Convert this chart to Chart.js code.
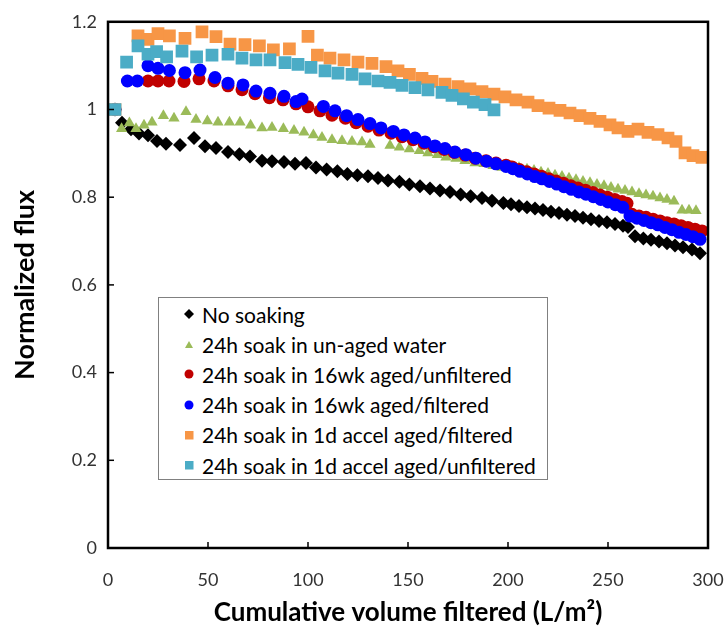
<!DOCTYPE html>
<html lang="en">
<head>
  <meta charset="UTF-8" />
  <title>Normalized flux</title>
  <script src="https://cdn.jsdelivr.net/npm/chart.js"></script>
  <style>
    body {
      margin: 0;
      background: #fff;
    }

    #wrap {
      position: relative;
      width: 725px;
      height: 628px;
    }

    #legend {
      position: absolute;
      left: 158px;
      top: 297px;
      width: 390px;
      height: 183px;
      box-sizing: border-box;
      border: 1px solid #808080;
      background: #fff;
      font-family: Lato, sans-serif;
      font-size: 21px;
      color: #000;
    }

    .item {
      position: absolute;
      left: 24px;
      height: 26px;
      display: flex;
      align-items: center;
      white-space: nowrap;
    }

    .item svg {
      width: 12px;
      height: 12px;
      margin-right: 7px;
    }
  </style>
</head>
<body>
  <div id="wrap">
    <canvas id="fluxChart" width="725" height="628"></canvas>
    <div id="legend"></div>
  </div>

  <script>
    const seriesNames = [
      "No soaking",
      "24h soak in un-aged water",
      "24h soak in 16wk aged/unfiltered",
      "24h soak in 16wk aged/filtered",
      "24h soak in 1d accel aged/filtered",
      "24h soak in 1d accel aged/unfiltered"
    ];

    // No soaking
    const noSoakX = [3.5, 7, 11.5, 15.5, 20, 24.5, 29, 36, 43, 48.5, 54, 60, 65.7, 71, 77, 82, 88, 93.5, 99,
      104, 109.3, 114.7, 119.7, 124.7, 130, 135, 140, 145.7, 150.7, 156, 161, 166, 171, 176.3, 181.3, 187, 192, 197.7,
      201.5, 205.5, 209.5, 213.5, 217.5, 221.5, 225.5, 229.5, 233.5, 237.5, 241.5, 245.5, 249.5, 253.5, 257.5, 260,
      263.5, 267.7, 271.5, 275.5, 279.5, 283.5, 287.5, 292, 296];
    const noSoakY = [1.0, 0.97, 0.955, 0.945, 0.941, 0.928, 0.922, 0.919, 0.935, 0.916, 0.912, 0.903, 0.898, 0.893, 0.883, 0.882, 0.88, 0.876, 0.878,
      0.868, 0.863, 0.859, 0.853, 0.85, 0.848, 0.844, 0.838, 0.835, 0.829, 0.825, 0.82, 0.815, 0.812, 0.806, 0.802, 0.798, 0.792, 0.787,
      0.784, 0.78, 0.777, 0.774, 0.771, 0.767, 0.764, 0.76, 0.757, 0.753, 0.75, 0.746, 0.743, 0.739, 0.735, 0.732,
      0.711, 0.706, 0.703, 0.699, 0.695, 0.69, 0.686, 0.681, 0.672];

    // un-aged water
    const unagedX = [3.5, 6.8, 10.7, 14, 18, 22, 27.7, 33, 39, 44, 49.7, 55, 60.7, 66, 71.3, 77, 82, 87.7, 93, 98,
      102.7, 107, 112, 117, 122, 127, 131, 141, 145.7, 150.7, 155.7, 160, 164.7, 169, 174, 178.5, 183.5, 188, 192.5, 197,
      201.5, 205.5, 209.5, 213, 216.5, 220, 223.5, 227, 230.5, 234, 237.5, 241, 244.5, 248, 251.5, 255, 258.5, 262,
      265.5, 269, 272.5, 276, 279.5, 283, 287, 290.5, 294];
    const unagedY = [1.0, 0.956, 0.969, 0.956, 0.964, 0.971, 0.986, 0.98, 0.995, 0.977, 0.974, 0.971, 0.971, 0.971, 0.964, 0.958, 0.959, 0.956, 0.952, 0.948,
      0.942, 0.936, 0.931, 0.929, 0.927, 0.926, 0.92, 0.918, 0.914, 0.91, 0.906, 0.901, 0.897, 0.891, 0.888, 0.883, 0.878, 0.876, 0.872, 0.868,
      0.87, 0.867, 0.864, 0.861, 0.857, 0.854, 0.85, 0.847, 0.843, 0.84, 0.836, 0.833, 0.829, 0.826, 0.822, 0.818, 0.815, 0.812,
      0.808, 0.805, 0.802, 0.798, 0.795, 0.791, 0.77, 0.77, 0.769];

    // 16wk aged/unfiltered
    const wkUnfX = [3.5, 20, 25, 30.5, 38, 45.5, 53, 60, 67, 73.5, 80.7, 87.5, 94, 100, 106, 112, 118.7, 124, 130, 135.5,
      141.5, 147, 152.5, 158, 163, 168, 173, 178.5, 183.5, 189, 194, 199,
      202, 205.7, 209.4, 213, 216.7, 220.4, 224, 227.7, 231.4, 235, 238.7, 242.4, 246, 249.7, 253.4, 257, 259.5,
      262, 265.5, 269, 272.5, 276, 279.5, 283, 286.5, 290, 293.5, 297];
    const wkUnfY = [1.0, 1.065, 1.065, 1.065, 1.064, 1.07, 1.065, 1.054, 1.045, 1.036, 1.027, 1.022, 1.013, 1.006, 0.997, 0.987, 0.98, 0.97, 0.962, 0.953,
      0.946, 0.938, 0.931, 0.923, 0.915, 0.909, 0.902, 0.896, 0.889, 0.883, 0.878, 0.873,
      0.869, 0.863, 0.858, 0.853, 0.848, 0.842, 0.837, 0.832, 0.826, 0.821, 0.816, 0.811, 0.805, 0.8, 0.795, 0.79, 0.786,
      0.761, 0.757, 0.754, 0.75, 0.746, 0.742, 0.739, 0.735, 0.731, 0.727, 0.723];

    // 16wk aged/filtered
    const wkFilX = [3.5, 9.7, 14.7, 20, 25, 30.7, 38.5, 46, 53.5, 60, 67.5, 74, 81, 88, 94, 97, 107.7, 113.5, 119.3, 125,
      131, 136.5, 142.7, 148, 153.5, 158.5, 163.5, 168.5, 173.5, 179, 184, 189.3, 194, 199,
      202.5, 206, 209.7, 213.4, 217, 220.7, 224.4, 228, 231.7, 235.4, 239, 242.7, 246.4, 250, 253.7, 257.4,
      261, 264.5, 268, 271.5, 275, 278.5, 282, 285.5, 289, 292.5, 296];
    const wkFilY = [1.0, 1.065, 1.065, 1.1, 1.094, 1.089, 1.084, 1.09, 1.073, 1.06, 1.056, 1.042, 1.037, 1.03, 1.018, 1.024, 1.007, 0.997, 0.986, 0.977,
      0.968, 0.958, 0.95, 0.942, 0.935, 0.926, 0.917, 0.911, 0.903, 0.897, 0.889, 0.882, 0.876, 0.87,
      0.865, 0.859, 0.853, 0.847, 0.842, 0.836, 0.83, 0.824, 0.818, 0.812, 0.807, 0.801, 0.795, 0.789, 0.783, 0.777,
      0.757, 0.752, 0.747, 0.742, 0.737, 0.731, 0.726, 0.72, 0.715, 0.71, 0.704];

    // 1d accel aged/filtered
    const dFilX = [3.5, 15, 20, 25, 30.7, 38.5, 47, 54, 61, 68.5, 75.7, 82.7, 90.7, 100, 104.7, 111, 118, 125, 132, 139,
      145, 150.7, 157, 162, 168.5, 175, 181, 187, 193, 198.5, 204, 210, 215, 220.5, 226, 231, 236, 241, 246, 251,
      255, 260, 265, 270, 275, 280, 284, 288.5, 292.5, 297];
    const dFilY = [1.0, 1.168, 1.16, 1.173, 1.168, 1.162, 1.177, 1.166, 1.149, 1.148, 1.145, 1.136, 1.138, 1.167, 1.124, 1.117, 1.113, 1.108, 1.105, 1.098,
      1.088, 1.08, 1.071, 1.064, 1.058, 1.052, 1.047, 1.041, 1.035, 1.029, 1.022, 1.017, 1.009, 1.003, 0.998, 0.992, 0.986, 0.98, 0.973, 0.965,
      0.958, 0.95, 0.955, 0.948, 0.943, 0.935, 0.927, 0.901, 0.895, 0.891];

    // 1d accel aged/unfiltered
    const dUnfX = [3.5, 9.3, 15, 20, 24.3, 29.3, 37, 44.3, 52, 60, 67, 74, 81, 88.5, 95, 101.5, 108.5, 115, 122, 128.5,
      135, 141, 147, 153.5, 160, 167, 172, 177.7, 182.7, 188.5, 193];
    const dUnfY = [1.0, 1.108, 1.145, 1.126, 1.132, 1.12, 1.133, 1.12, 1.124, 1.126, 1.117, 1.113, 1.113, 1.107, 1.103, 1.096, 1.088, 1.083, 1.08, 1.07,
      1.065, 1.062, 1.055, 1.05, 1.045, 1.039, 1.032, 1.024, 1.017, 1.011, 0.999];

    const xTicks = [0, 50, 100, 150, 200, 250, 300];
    const yTicks = [0, 0.2, 0.4, 0.6, 0.8, 1.0, 1.2];

    const colors = ["#000000", "#9BBB59", "#C00000", "#0000FF", "#F79646", "#4BACC6"];
    const shapes = ["rectRot", "triangle", "circle", "circle", "rect", "rect"];
    const sizes = [7, 6.5, 6.5, 6.5, 9, 9];
    const xs = [noSoakX, unagedX, wkUnfX, wkFilX, dFilX, dUnfX];
    const ys = [noSoakY, unagedY, wkUnfY, wkFilY, dFilY, dUnfY];

    const datasets = seriesNames.map((name, i) => ({
      label: name,
      data: xs[i].map((x, j) => ({ x: x, y: ys[i][j] })),
      showLine: false,
      pointStyle: shapes[i],
      pointRadius: sizes[i],
      pointBackgroundColor: colors[i],
      pointBorderWidth: 0,
      borderColor: colors[i],
      // later series drawn on top, like the original
      order: seriesNames.length - i
    }));

    // frame and inward tick marks
    const framePlugin = {
      id: "frame",
      afterDatasetsDraw(chart) {
        const ctx = chart.ctx;
        const a = chart.chartArea;
        const sx = chart.scales.x;
        const sy = chart.scales.y;
        ctx.save();
        ctx.strokeStyle = "#000";
        ctx.lineWidth = 1.5;
        xTicks.forEach(v => {
          const px = sx.getPixelForValue(v);
          ctx.beginPath();
          ctx.moveTo(px, a.bottom);
          ctx.lineTo(px, a.bottom - 6);
          ctx.stroke();
        });
        yTicks.forEach(v => {
          const py = sy.getPixelForValue(v);
          ctx.beginPath();
          ctx.moveTo(a.left, py);
          ctx.lineTo(a.left + 6, py);
          ctx.stroke();
        });
        ctx.lineWidth = 2.5;
        ctx.strokeRect(a.left, a.top, a.right - a.left, a.bottom - a.top);
        ctx.restore();
      }
    };

    const tickFont = { family: "Lato, sans-serif", size: 18 };
    const titleFont = { family: "Lato, sans-serif", size: 26, weight: "bold" };

    new Chart(document.getElementById("fluxChart"), {
      type: "scatter",
      data: { datasets: datasets },
      options: {
        responsive: false,
        animation: false,
        layout: { padding: { left: 0, right: 0, top: 20, bottom: 0 } },
        plugins: {
          legend: { display: false },
          tooltip: { enabled: false }
        },
        scales: {
          x: {
            type: "linear",
            min: 0,
            max: 300,
            afterBuildTicks: s => { s.ticks = xTicks.map(v => ({ value: v })); },
            afterFit: s => {
              s.height = 80;
              s.paddingLeft = 0;
              s.paddingRight = 17;
            },
            ticks: { font: tickFont, color: "#333", padding: 21, maxRotation: 0 },
            grid: { display: false, drawTicks: false },
            border: { display: false },
            title: {
              display: true,
              text: "Cumulative volume filtered (L/m²)",
              font: titleFont,
              color: "#000",
              padding: { top: 0, bottom: 0 }
            }
          },
          y: {
            min: 0,
            max: 1.2,
            afterBuildTicks: s => { s.ticks = yTicks.map(v => ({ value: v })); },
            afterFit: s => { s.width = 108; },
            ticks: {
              font: tickFont,
              color: "#333",
              padding: 11,
              callback: v => String(Number(v.toFixed(1)))
            },
            grid: { display: false, drawTicks: false },
            border: { display: false },
            title: {
              display: true,
              text: "Normalized flux",
              font: { family: "Lato, sans-serif", size: 27, weight: "bold" },
              color: "#000",
              padding: { top: 9, bottom: 0 }
            }
          }
        }
      },
      plugins: [framePlugin]
    });

    // legend box inside the plot, as in the original
    const legendIcons = [
      '<svg viewBox="0 0 12 12"><polygon points="6,1 11,6 6,11 1,6" fill="#000"/></svg>',
      '<svg viewBox="0 0 12 12"><polygon points="6,3 10,10 2,10" fill="#9BBB59"/></svg>',
      '<svg viewBox="0 0 12 12"><circle cx="6" cy="6" r="4.5" fill="#C00000"/></svg>',
      '<svg viewBox="0 0 12 12"><circle cx="6" cy="6" r="4.5" fill="#0000FF"/></svg>',
      '<svg viewBox="0 0 12 12"><rect x="2" y="2" width="8.5" height="8.5" fill="#F79646"/></svg>',
      '<svg viewBox="0 0 12 12"><rect x="2" y="2" width="8.5" height="8.5" fill="#4BACC6"/></svg>'
    ];
    const legend = document.getElementById("legend");
    seriesNames.forEach((name, i) => {
      const div = document.createElement("div");
      div.className = "item";
      div.style.top = (3 + i * 30.2) + "px";
      div.innerHTML = legendIcons[i] + "<span>" + name + "</span>";
      legend.appendChild(div);
    });
  </script>
</body>
</html>
